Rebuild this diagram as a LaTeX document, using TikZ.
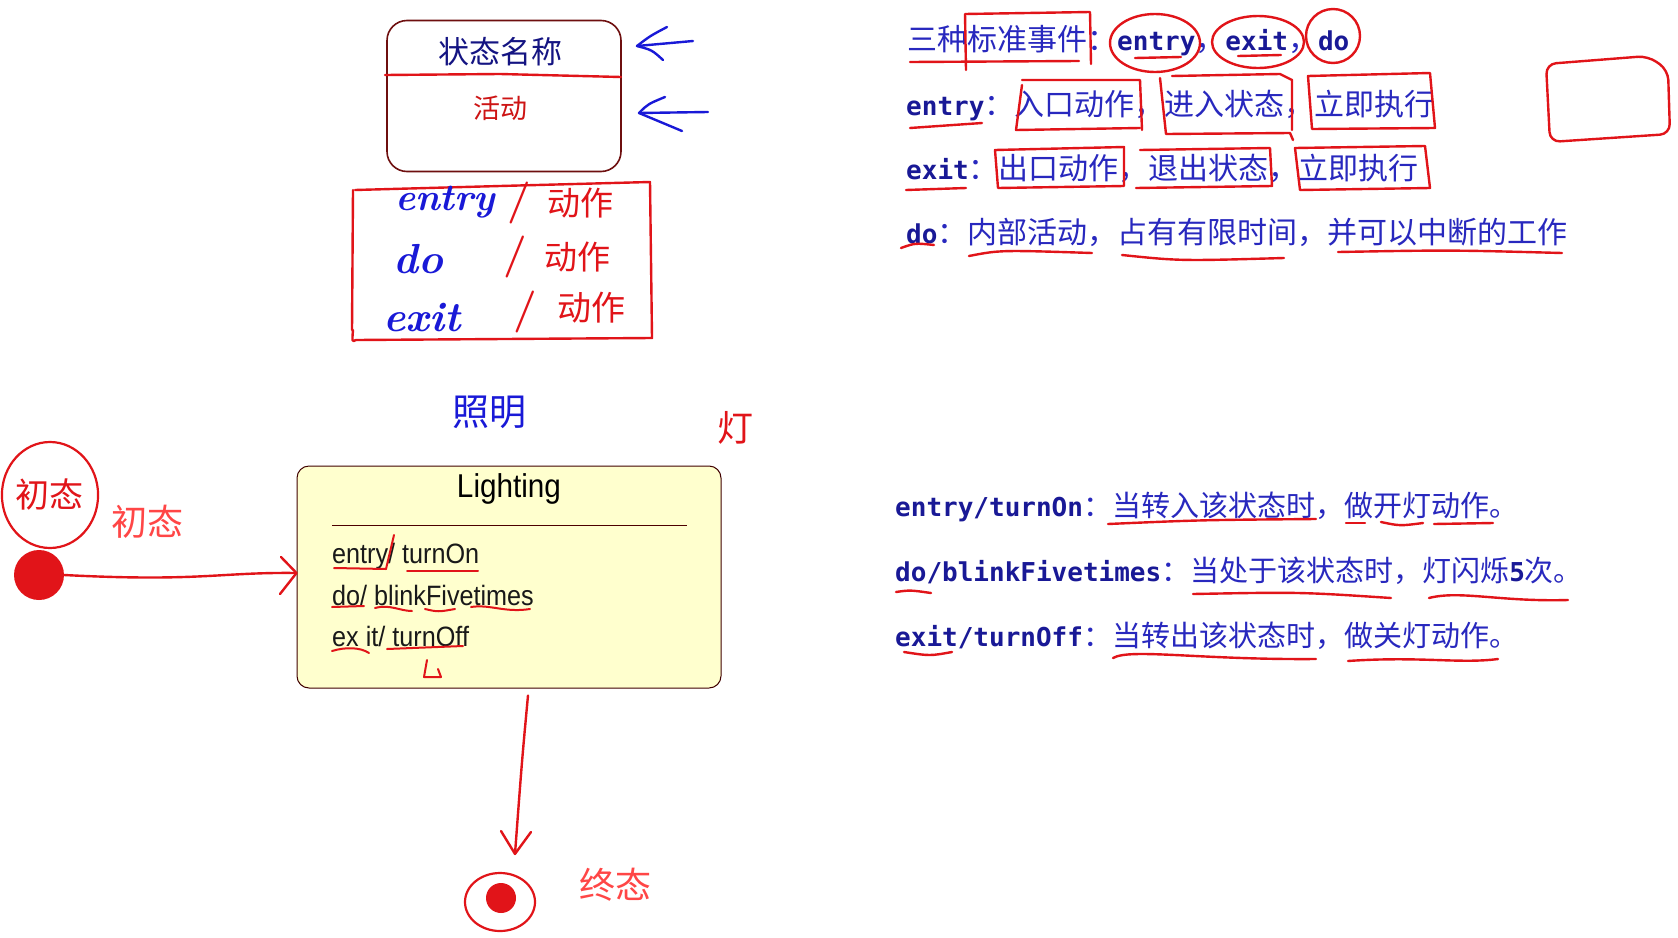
\documentclass[tikz,border=0pt]{standalone}
\usepackage{fontspec}
\usepackage{graphicx}
\newfontfamily\cjk{Noto Sans CJK SC}
\newfontfamily\codef{DejaVu Sans Mono}
\newfontfamily\lsans{Liberation Sans}
\usetikzlibrary{shapes.geometric}
\definecolor{penred}{RGB}{225,20,25}
\definecolor{penblue}{RGB}{25,25,215}
\definecolor{txtblue}{RGB}{40,40,190}
\definecolor{codeblue}{RGB}{25,25,150}
\definecolor{lightred}{RGB}{255,70,70}
\definecolor{boxbrown}{RGB}{110,15,15}
\definecolor{litfill}{RGB}{255,255,206}
\definecolor{titleblue}{RGB}{20,20,130}
\definecolor{actred}{RGB}{205,20,20}
\newcommand\cd[1]{{\codef\bfseries\color{codeblue}\fontsize{26}{30}\selectfont #1}}
\begin{document}
\begin{tikzpicture}[x=1pt,y=-1pt,
  pen/.style={draw=penred, line width=2.4pt, line cap=round, line join=round},
  bpen/.style={draw=penblue, line width=2.4pt, line cap=round, line join=round},
  zhline/.style={inner sep=0pt, anchor=west, text=txtblue, font=\cjk\fontsize{29}{34}\selectfont},
  zhtop/.style={zhline, font=\cjk\fontsize{30}{34}\selectfont},
  hand/.style={inner sep=0pt},
  littext/.style={inner sep=0pt, anchor=west, text=black!90, font=\lsans\fontsize{28}{32}\selectfont},
]
\useasboundingbox (0,0) rectangle (1678,937);
\fill[white] (0,0) rectangle (1678,937);

% ---------- state template ----------
\node[draw=boxbrown, line width=1.6pt, rounded corners=20pt, minimum width=234pt, minimum height=151pt] (tmpl) at (504,96) {};
\node[inner sep=0pt, text=titleblue, font=\cjk\fontsize{31}{34}\selectfont] (tname) at (500,52) {状态名称};
\draw[pen] (385,75) -- (500,74) -- (621,77);
\node[inner sep=0pt, text=actred, font=\cjk\fontsize{27}{30}\selectfont] (tact) at (500,108) {活动};

% blue arrows
\coordinate (a1tail) at (693,41); \coordinate (a1tip) at (637,46);
\draw[bpen] (a1tail) -- (a1tip);
\draw[bpen] (667,27) .. controls (650,36) .. (a1tip) .. controls (652,50) .. (663,60);
\coordinate (a2tail) at (708,112); \coordinate (a2tip) at (639,113);
\draw[bpen] (a2tail) -- (a2tip);
\draw[bpen] (665,97) .. controls (648,104) .. (a2tip) .. controls (660,122) .. (682,131);

% handwritten box
\draw[pen] (355,190) -- (500,186) -- (650,182) -- (652,338) -- (356,340) .. controls (352,342) .. (353,330);
\draw[pen] (353,190) -- (352,330);
\node[hand, text=penblue, font=\bfseries\itshape\fontsize{38}{40}\selectfont] (hentry) at (445,202) {entry};
\node[hand, text=penred, font=\bfseries\fontsize{42}{42}\selectfont] (hs1) at (519,203) {/};
\node[hand, text=penred, font=\cjk\fontsize{33}{34}\selectfont] (ha1) at (580,203) {动作};
\node[hand, text=penblue, font=\bfseries\itshape\fontsize{42}{42}\selectfont] (hdo) at (418,259) {do};
\node[hand, text=penred, font=\bfseries\fontsize{42}{42}\selectfont] (hs2) at (515,257) {/};
\node[hand, text=penred, font=\cjk\fontsize{33}{34}\selectfont] (ha2) at (577,257) {动作};
\node[hand, text=penblue, font=\bfseries\itshape\fontsize{42}{42}\selectfont] (hexit) at (422,318) {exit};
\node[hand, text=penred, font=\bfseries\fontsize{42}{42}\selectfont] (hs3) at (525,312) {/};
\node[hand, text=penred, font=\cjk\fontsize{34}{34}\selectfont] (ha3) at (591,308) {动作};

% handwritten words
\node[hand, text=penblue, font=\cjk\fontsize{37}{38}\selectfont] (hzm) at (489,412) {照明};
\node[hand, text=penred, font=\cjk\fontsize{36}{36}\selectfont] (hdeng) at (735,428) {灯};

% ---------- initial state ----------
\node[draw=penred, ellipse, line width=2.2pt, minimum width=96pt, minimum height=106pt, inner sep=0pt, text=penred, font=\cjk\fontsize{34}{34}\selectfont] (hinit) at (50,495) {初态};
\node[circle, fill=penred, minimum size=50pt, inner sep=0pt] (init) at (39,575) {};
\node[text=lightred, font=\cjk\fontsize{36}{40}\selectfont, inner sep=0pt] (initlbl) at (147,522) {初态};

% ---------- Lighting state ----------
\node[draw=black!75!red, line width=1pt, fill=litfill, rounded corners=12pt, minimum width=424pt, minimum height=222pt] (lit) at (509,577) {};
\node[inner sep=0pt, font=\lsans\fontsize{33}{36}\selectfont] (littitle) at (509,489) {\scalebox{0.9}[1]{Lighting}};
\draw[draw=black!70!red, line width=1pt] (332,525) -- (687,525);
\node[littext] (l1) at (332,556) {\scalebox{0.9}[1]{entry/ turnOn}};
\node[littext] (l2) at (332,595) {\scalebox{0.9}[1]{do/ blinkFivetimes}};
\node[littext] (l3) at (332,636) {\scalebox{0.9}[1]{ex it/ turnOff}};
% marks inside
\draw[pen, line width=2pt] (334,568) -- (386,569);
\draw[pen, line width=2pt] (394,535) -- (386,569);
\draw[pen, line width=2pt] (407,571) -- (478,571);
\draw[pen, line width=2pt] (332,607) -- (364,606);
\draw[pen, line width=2pt] (375,608) .. controls (390,604) and (400,611) .. (412,611);
\draw[pen, line width=2pt] (425,609) .. controls (438,612) .. (455,609);
\draw[pen, line width=2pt] (471,607) .. controls (490,604) and (505,613) .. (530,609);
\draw[pen, line width=2pt] (332,651) .. controls (345,647) and (360,647) .. (369,653);
\draw[pen, line width=2pt] (387,649) -- (463,646);
\draw[pen, line width=2pt] (427,660) -- (424,677) -- (441,677) -- (438,669);

% transition initial -> Lighting
\coordinate (ah) at ([yshift=4pt]lit.west);
\draw[pen] (init.east) .. controls (200,582) and (220,572) .. (ah);
\draw[pen] (281,557) -- (ah) -- (280,594);

% ---------- final state ----------
\node[draw=penred, ellipse, line width=2.2pt, minimum width=70pt, minimum height=58pt, inner sep=0pt] (final) at (500,902) {};
\node[circle, fill=penred, minimum size=30pt, inner sep=0pt] (finaldot) at (501,898) {};
\node[text=lightred, font=\cjk\fontsize{36}{40}\selectfont, inner sep=0pt] (finallbl) at (615,885) {终态};
\coordinate (dstart) at ([xshift=19pt,yshift=-7pt]lit.south);
\coordinate (dtip) at ([xshift=15pt,yshift=18pt]final.north);
\draw[pen] (dstart) .. controls (522,760) .. (dtip);
\draw[pen] (501,831) -- (dtip) -- (531,832);

% ---------- right text, top ----------
\node[zhtop] (t1) at (907,41) {三种标准事件：\cd{entry}，\cd{exit}，\cd{do}};
\node[zhtop] (t2) at (906,105) {\cd{entry}：入口动作，进入状态，立即执行};
\node[zhtop] (t3) at (906,168) {\cd{exit}：出口动作，退出状态，立即执行};
\node[zhtop] (t4) at (906,232) {\cd{do}：内部活动，占有有限时间，并可以中断的工作};

% annotations line 1
\draw[pen] (910,62) -- (1079,61);
\draw[pen] (966,70) -- (965,14) -- (1090,12) -- (1091,64);
\draw[pen] (1155,43) ellipse [x radius=45pt, y radius=29pt];
\draw[pen] (1135,58) -- (1181,57);
\draw[pen] (1258,42) ellipse [x radius=46pt, y radius=26pt];
\draw[pen] (1238,56) -- (1281,55);
\draw[pen] (1333,36) ellipse [x radius=27pt, y radius=27pt];
% line 2
\draw[pen] (910,128) -- (982,123);
\draw[pen] (1022,85) -- (1016,130) -- (1140,128);
\draw[pen] (1022,80) -- (1140,80) -- (1142,130);
\draw[pen] (1160,78) -- (1166,134) -- (1290,133) -- (1293,140);
\draw[pen] (1172,76) -- (1280,74) -- (1292,80) -- (1292,130);
\draw[pen] (1308,76) -- (1430,73) -- (1435,128) -- (1312,129) -- cycle;
% line 3
\draw[pen] (906,190) -- (966,188);
\draw[pen] (995,150) -- (1124,147) -- (1124,186) -- (998,188) -- cycle;
\draw[pen] (1140,150) -- (1270,148) -- (1272,186) -- (1136,188);
\draw[pen] (1295,148) -- (1425,146) -- (1430,188) -- (1300,190) -- cycle;
% line 4
\draw[pen] (901,248) .. controls (915,243) .. (934,245);
\draw[pen] (969,256) .. controls (1000,250) .. (1092,253);
\draw[pen] (1122,255) .. controls (1180,261) .. (1284,258);
\draw[pen] (1338,252) .. controls (1450,250) .. (1562,253);

% right rectangle
\draw[pen, rounded corners=10pt] (1546,64) -- (1648,56) -- (1668,70) -- (1670,134) -- (1550,142) -- cycle;

% ---------- right text, bottom ----------
\node[zhline] (b1) at (895,507) {\cd{entry/turnOn}：当转入该状态时，做开灯动作。};
\node[zhline] (b2) at (895,571) {\cd{do/blinkFivetimes}：当处于该状态时，灯闪烁\cd{5}次。};
\node[zhline] (b3) at (895,636) {\cd{exit/turnOff}：当转出该状态时，做关灯动作。};

\draw[pen] (1108,524) .. controls (1200,520) .. (1316,519);
\draw[pen] (1346,523) -- (1365,523);
\draw[pen] (1381,522) .. controls (1400,526) .. (1423,523);
\draw[pen] (1434,524) -- (1493,523);
\draw[pen] (896,592) .. controls (910,590) .. (931,593);
\draw[pen] (1193,594) .. controls (1300,592) .. (1391,598);
\draw[pen] (1429,598) .. controls (1460,590) and (1500,602) .. (1568,600);
\draw[pen] (904,652) .. controls (930,656) .. (952,652);
\draw[pen] (1113,658) .. controls (1130,648) and (1200,660) .. (1316,659);
\draw[pen] (1348,661) .. controls (1420,656) and (1460,664) .. (1498,659);
\end{tikzpicture}
\end{document}
